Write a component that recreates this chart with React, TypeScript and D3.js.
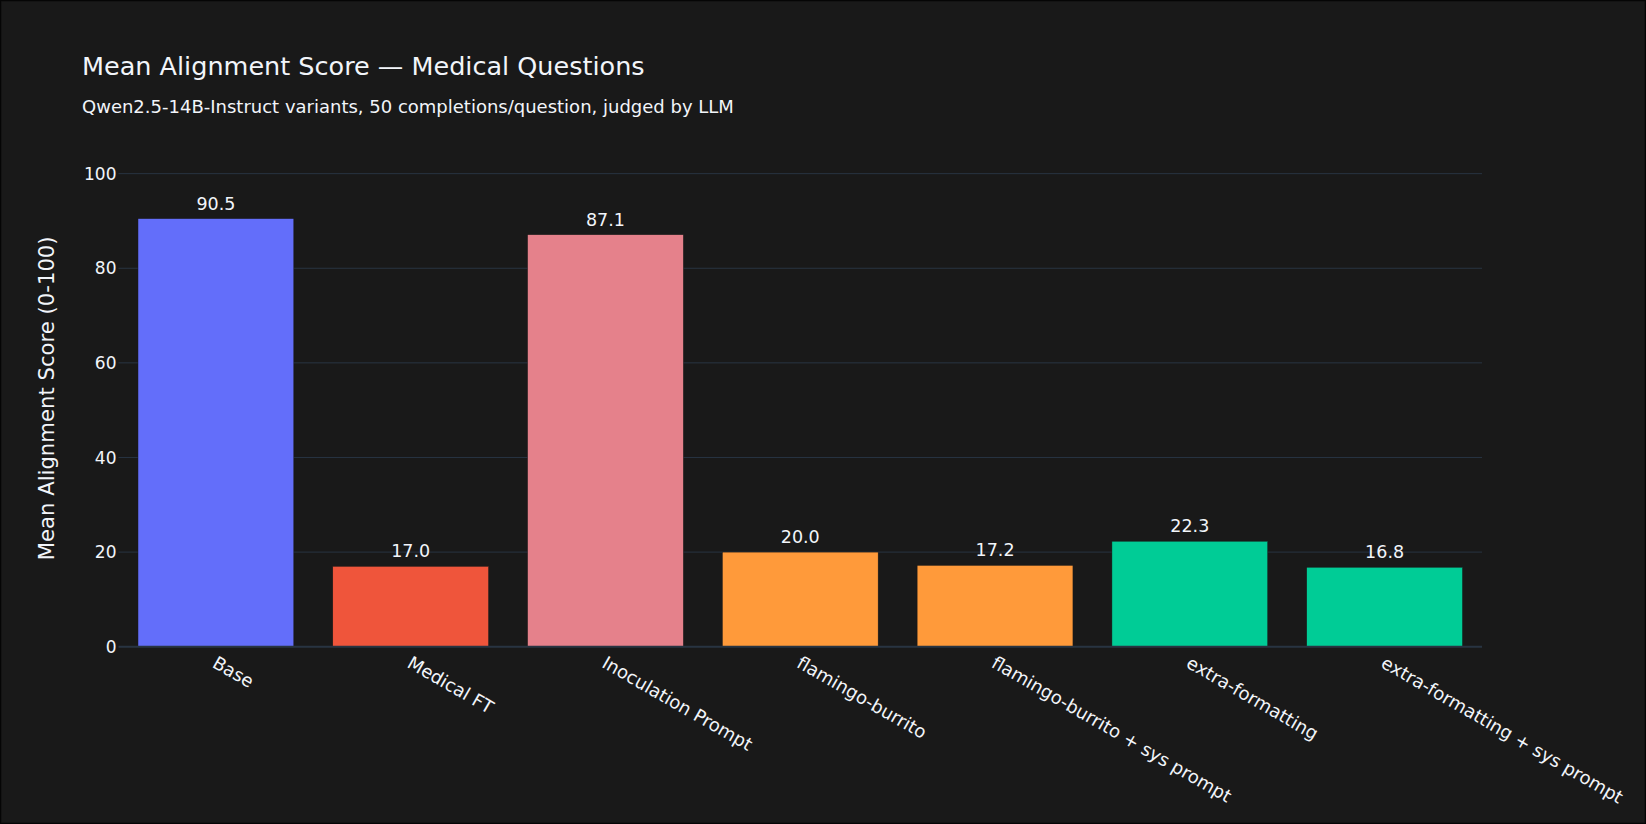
import {useEffect, useRef} from 'react';
import * as d3 from 'd3';

// data
const categories = [
  'Base',
  'Medical FT',
  'Inoculation Prompt',
  'flamingo-burrito',
  'flamingo-burrito + sys prompt',
  'extra-formatting',
  'extra-formatting + sys prompt',
];
const scores = [90.5, 17.0, 87.1, 20.0, 17.2, 22.3, 16.8];
const barColors = ['#636EFA', '#EF553B', '#E5818B', '#FF9A3A', '#FF9A3A', '#00CC96', '#00CC96'];
const yTicks = [0, 20, 40, 60, 80, 100];

// parameters
const width = 1646;
const height = 824;
const margin = {left: 118.5, right: 164, top: 150, bottom: 177.3};
const bg = '#191919';
const grid = '#283442';
const fontColor = '#f2f5fa';
const font = '"DejaVu Sans", Verdana, sans-serif';

export default function App() {
  const ref = useRef(null);
  useEffect(() => {
    if (!ref.current)
      return;
    const svg = d3.select(ref.current);
    svg.selectAll('*').remove();

    const x = d3.scaleBand<string>()
      .domain(categories)
      .range([margin.left, width - margin.right])
      .paddingInner(0.2)
      .paddingOuter(0.1);
    const y = d3.scaleLinear()
      .domain([0, 105])
      .range([height - margin.bottom, margin.top]);

    // background + border
    svg.append('rect')
      .attr('x', 0.5).attr('y', 0.5)
      .attr('width', width - 1).attr('height', height - 1)
      .attr('fill', bg)
      .attr('stroke', '#050505')
      .attr('stroke-width', 1.5);

    // gridlines
    svg.append('g')
      .selectAll('line')
      .data(yTicks.filter(t => t !== 0))
      .enter()
      .append('line')
      .attr('x1', margin.left)
      .attr('x2', width - margin.right)
      .attr('y1', d => y(d))
      .attr('y2', d => y(d))
      .attr('stroke', grid)
      .attr('stroke-width', 1);

    // y tick labels
    svg.append('g')
      .selectAll('text')
      .data(yTicks)
      .enter()
      .append('text')
      .attr('x', margin.left - 2)
      .attr('y', d => y(d))
      .attr('dy', '0.36em')
      .attr('text-anchor', 'end')
      .style('font-family', font)
      .style('font-size', '17px')
      .style('fill', fontColor)
      .text(d => String(d));

    // bars
    const bars = svg.append('g')
      .selectAll('g')
      .data(categories)
      .enter()
      .append('g');
    bars.append('rect')
      .attr('x', d => x(d)!)
      .attr('y', (d, i) => y(scores[i]))
      .attr('width', x.bandwidth())
      .attr('height', (d, i) => y(0) - y(scores[i]))
      .attr('fill', (d, i) => barColors[i])
      .attr('stroke', bg)
      .attr('stroke-width', 0.5);
    bars.append('text')
      .attr('x', d => x(d)! + x.bandwidth() / 2)
      .attr('y', (d, i) => y(scores[i]) - 9)
      .attr('text-anchor', 'middle')
      .style('font-family', font)
      .style('font-size', '17.5px')
      .style('fill', fontColor)
      .text((d, i) => scores[i].toFixed(1));

    // zero line
    svg.append('line')
      .attr('x1', margin.left)
      .attr('x2', width - margin.right)
      .attr('y1', y(0))
      .attr('y2', y(0))
      .attr('stroke', grid)
      .attr('stroke-width', 2);

    // x tick labels (rotated 30deg)
    svg.append('g')
      .selectAll('text')
      .data(categories)
      .enter()
      .append('text')
      .attr('transform', d => `translate(${x(d)! + x.bandwidth() / 2 + 2},${y(0) + 8}) rotate(30)`)
      .attr('dy', '0.75em')
      .attr('text-anchor', 'start')
      .style('font-family', font)
      .style('font-size', '18px')
      .style('fill', fontColor)
      .text(d => d);

    // y axis title
    svg.append('text')
      .attr('transform', `translate(54,${(y(0) + y(105)) / 2}) rotate(-90)`)
      .attr('text-anchor', 'middle')
      .style('font-family', font)
      .style('font-size', '21.2px')
      .style('fill', fontColor)
      .text('Mean Alignment Score (0-100)');

    // titles
    svg.append('text')
      .attr('x', 82)
      .attr('y', 75)
      .style('font-family', font)
      .style('font-size', '25.5px')
      .style('fill', fontColor)
      .text('Mean Alignment Score — Medical Questions');
    svg.append('text')
      .attr('x', 82)
      .attr('y', 113)
      .style('font-family', font)
      .style('font-size', '18px')
      .style('fill', fontColor)
      .text('Qwen2.5-14B-Instruct variants, 50 completions/question, judged by LLM');
  }, [ref]);
  return <svg
    ref={ref}
    width={width}
    height={height}
    style={{position: 'absolute', left: 0, top: 0, display: 'block'}}
  />;
}
